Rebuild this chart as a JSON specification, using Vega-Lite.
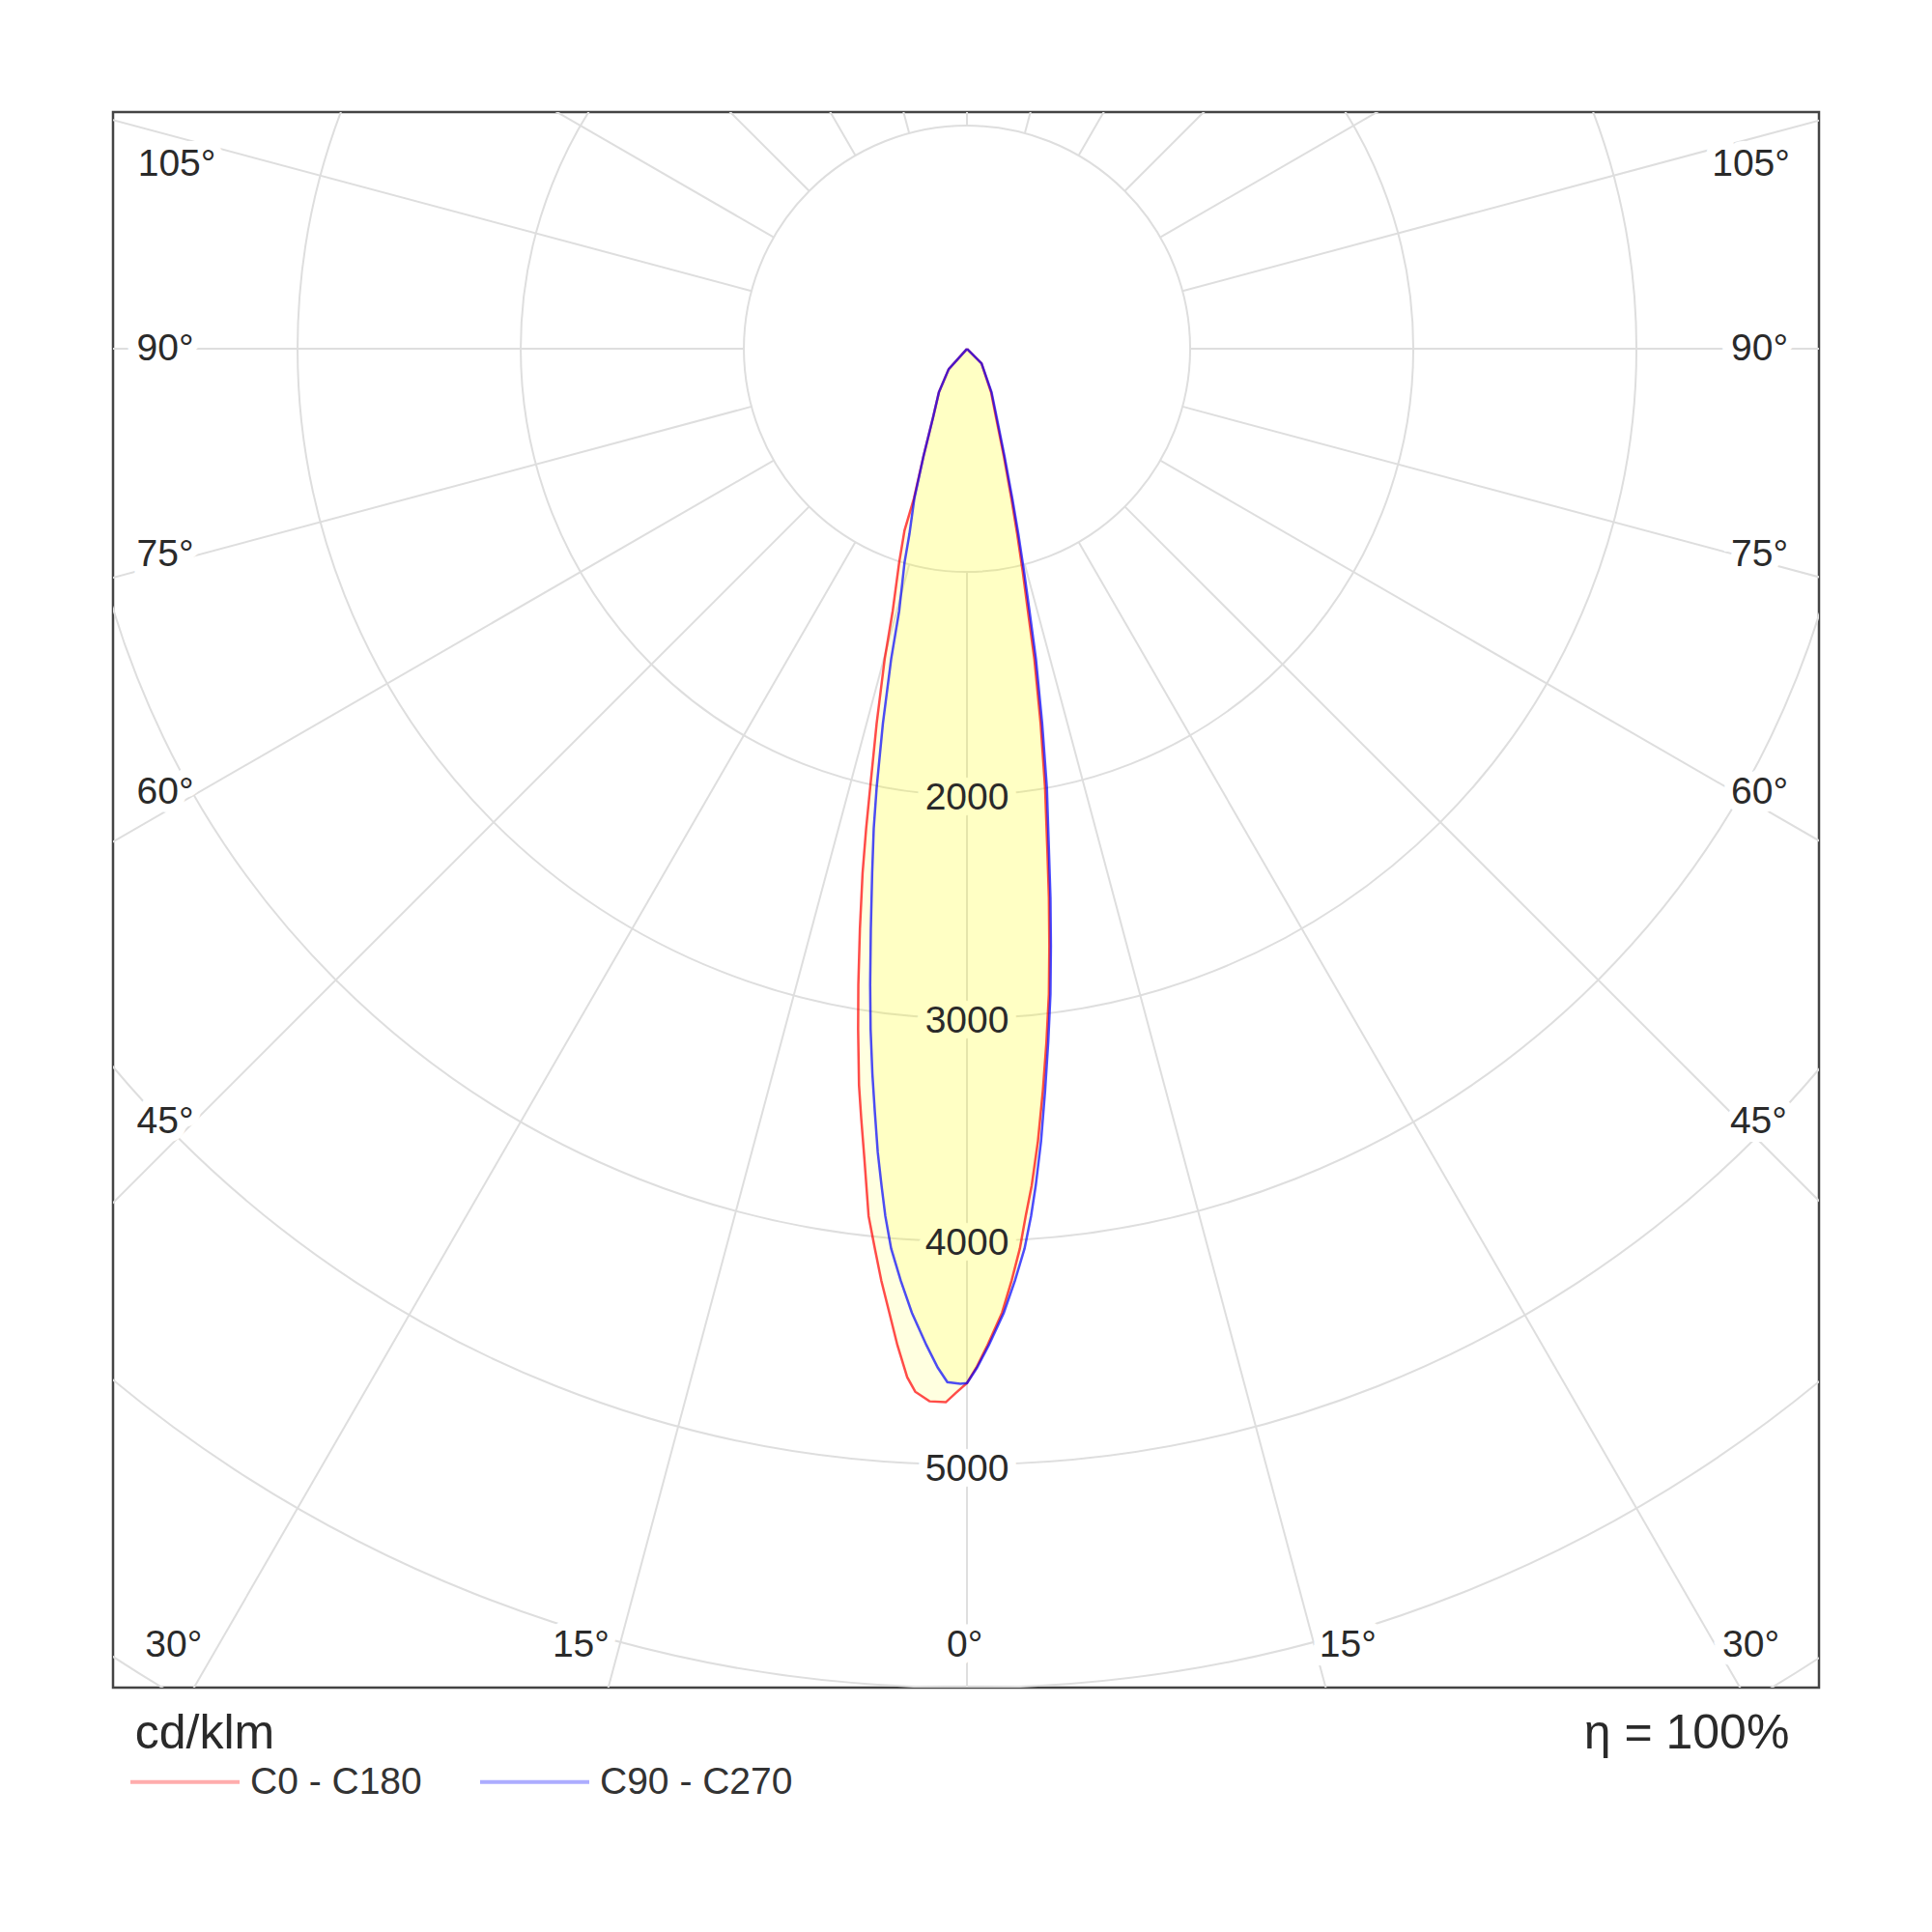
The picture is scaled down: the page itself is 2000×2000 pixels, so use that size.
{
  "$schema": "https://vega.github.io/schema/vega-lite/v6.json",
  "width": 1766,
  "height": 1631,
  "padding": {"left": 117, "top": 116, "right": 100, "bottom": 100},
  "background": "white",
  "datasets": {
    "rings": [
      {"x": 0, "y": 0, "r": 1000},
      {"x": 0, "y": 0, "r": 2000},
      {"x": 0, "y": 0, "r": 3000},
      {"x": 0, "y": 0, "r": 4000},
      {"x": 0, "y": 0, "r": 5000},
      {"x": 0, "y": 0, "r": 6000},
      {"x": 0, "y": 0, "r": 7000}
    ],
    "spokes": [
      {"x": 0, "y": 1000, "x2": 0, "y2": 9000},
      {"x": 259, "y": 966, "x2": 2329, "y2": 8693},
      {"x": -259, "y": 966, "x2": -2329, "y2": 8693},
      {"x": 500, "y": 866, "x2": 4500, "y2": 7794},
      {"x": -500, "y": 866, "x2": -4500, "y2": 7794},
      {"x": 707, "y": 707, "x2": 6364, "y2": 6364},
      {"x": -707, "y": 707, "x2": -6364, "y2": 6364},
      {"x": 866, "y": 500, "x2": 7794, "y2": 4500},
      {"x": -866, "y": 500, "x2": -7794, "y2": 4500},
      {"x": 966, "y": 259, "x2": 8693, "y2": 2329},
      {"x": -966, "y": 259, "x2": -8693, "y2": 2329},
      {"x": 1000, "y": 0, "x2": 9000, "y2": 0},
      {"x": -1000, "y": 0, "x2": -9000, "y2": 0},
      {"x": 966, "y": -259, "x2": 8693, "y2": -2329},
      {"x": -966, "y": -259, "x2": -8693, "y2": -2329},
      {"x": 866, "y": -500, "x2": 7794, "y2": -4500},
      {"x": -866, "y": -500, "x2": -7794, "y2": -4500},
      {"x": 707, "y": -707, "x2": 6364, "y2": -6364},
      {"x": -707, "y": -707, "x2": -6364, "y2": -6364},
      {"x": 500, "y": -866, "x2": 4500, "y2": -7794},
      {"x": -500, "y": -866, "x2": -4500, "y2": -7794},
      {"x": 259, "y": -966, "x2": 2329, "y2": -8693},
      {"x": -259, "y": -966, "x2": -2329, "y2": -8693},
      {"x": 0, "y": -1000, "x2": 0, "y2": -9000}
    ],
    "labels": [
      {"label": "105°", "x": -3541, "y": -828},
      {"label": "90°", "x": -3593, "y": 0},
      {"label": "75°", "x": -3593, "y": 922},
      {"label": "60°", "x": -3593, "y": 1988},
      {"label": "45°", "x": -3593, "y": 3462},
      {"label": "105°", "x": 3513, "y": -828},
      {"label": "90°", "x": 3552, "y": 0},
      {"label": "75°", "x": 3552, "y": 922},
      {"label": "60°", "x": 3552, "y": 1988},
      {"label": "45°", "x": 3547, "y": 3462},
      {"label": "30°", "x": -3555, "y": 5809},
      {"label": "15°", "x": -1730, "y": 5809},
      {"label": "0°", "x": -10, "y": 5809},
      {"label": "15°", "x": 1707, "y": 5809},
      {"label": "30°", "x": 3513, "y": 5809},
      {"label": "2000", "x": 0, "y": 2013},
      {"label": "3000", "x": 0, "y": 3013},
      {"label": "4000", "x": 0, "y": 4009},
      {"label": "5000", "x": 0, "y": 5022}
    ],
    "notes": [
      {"label": "cd/klm", "x": -3416, "y": 6206},
      {"label": "η = 100%", "x": 3225, "y": 6206}
    ],
    "curves": [
      {"series": "C0 - C180", "i": 0, "x": 0, "y": 0},
      {"series": "C0 - C180", "i": 1, "x": -82, "y": 91},
      {"series": "C0 - C180", "i": 2, "x": -126, "y": 195},
      {"series": "C0 - C180", "i": 3, "x": -152, "y": 307},
      {"series": "C0 - C180", "i": 4, "x": -195, "y": 481},
      {"series": "C0 - C180", "i": 5, "x": -238, "y": 671},
      {"series": "C0 - C180", "i": 6, "x": -280, "y": 814},
      {"series": "C0 - C180", "i": 7, "x": -304, "y": 958},
      {"series": "C0 - C180", "i": 8, "x": -333, "y": 1175},
      {"series": "C0 - C180", "i": 9, "x": -369, "y": 1391},
      {"series": "C0 - C180", "i": 10, "x": -405, "y": 1680},
      {"series": "C0 - C180", "i": 11, "x": -434, "y": 1968},
      {"series": "C0 - C180", "i": 12, "x": -452, "y": 2150},
      {"series": "C0 - C180", "i": 13, "x": -468, "y": 2350},
      {"series": "C0 - C180", "i": 14, "x": -480, "y": 2600},
      {"series": "C0 - C180", "i": 15, "x": -487, "y": 2850},
      {"series": "C0 - C180", "i": 16, "x": -488, "y": 3050},
      {"series": "C0 - C180", "i": 17, "x": -484, "y": 3300},
      {"series": "C0 - C180", "i": 18, "x": -474, "y": 3450},
      {"series": "C0 - C180", "i": 19, "x": -460, "y": 3628},
      {"series": "C0 - C180", "i": 20, "x": -441, "y": 3887},
      {"series": "C0 - C180", "i": 21, "x": -413, "y": 4032},
      {"series": "C0 - C180", "i": 22, "x": -384, "y": 4176},
      {"series": "C0 - C180", "i": 23, "x": -348, "y": 4320},
      {"series": "C0 - C180", "i": 24, "x": -312, "y": 4465},
      {"series": "C0 - C180", "i": 25, "x": -268, "y": 4609},
      {"series": "C0 - C180", "i": 26, "x": -232, "y": 4674},
      {"series": "C0 - C180", "i": 27, "x": -168, "y": 4717},
      {"series": "C0 - C180", "i": 28, "x": -95, "y": 4721},
      {"series": "C0 - C180", "i": 29, "x": -52, "y": 4681},
      {"series": "C0 - C180", "i": 30, "x": 0, "y": 4635},
      {"series": "C0 - C180", "i": 31, "x": 42, "y": 4566},
      {"series": "C0 - C180", "i": 32, "x": 92, "y": 4465},
      {"series": "C0 - C180", "i": 33, "x": 157, "y": 4320},
      {"series": "C0 - C180", "i": 34, "x": 200, "y": 4176},
      {"series": "C0 - C180", "i": 35, "x": 237, "y": 4032},
      {"series": "C0 - C180", "i": 36, "x": 263, "y": 3887},
      {"series": "C0 - C180", "i": 37, "x": 290, "y": 3750},
      {"series": "C0 - C180", "i": 38, "x": 318, "y": 3550},
      {"series": "C0 - C180", "i": 39, "x": 340, "y": 3325},
      {"series": "C0 - C180", "i": 40, "x": 356, "y": 3108},
      {"series": "C0 - C180", "i": 41, "x": 367, "y": 2892},
      {"series": "C0 - C180", "i": 42, "x": 369, "y": 2675},
      {"series": "C0 - C180", "i": 43, "x": 367, "y": 2459},
      {"series": "C0 - C180", "i": 44, "x": 360, "y": 2242},
      {"series": "C0 - C180", "i": 45, "x": 350, "y": 1968},
      {"series": "C0 - C180", "i": 46, "x": 330, "y": 1680},
      {"series": "C0 - C180", "i": 47, "x": 302, "y": 1391},
      {"series": "C0 - C180", "i": 48, "x": 273, "y": 1175},
      {"series": "C0 - C180", "i": 49, "x": 250, "y": 1000},
      {"series": "C0 - C180", "i": 50, "x": 225, "y": 830},
      {"series": "C0 - C180", "i": 51, "x": 199, "y": 671},
      {"series": "C0 - C180", "i": 52, "x": 165, "y": 481},
      {"series": "C0 - C180", "i": 53, "x": 130, "y": 307},
      {"series": "C0 - C180", "i": 54, "x": 108, "y": 195},
      {"series": "C0 - C180", "i": 55, "x": 65, "y": 65},
      {"series": "C0 - C180", "i": 56, "x": 0, "y": 0},
      {"series": "C90 - C270", "i": 0, "x": 0, "y": 0},
      {"series": "C90 - C270", "i": 1, "x": -82, "y": 91},
      {"series": "C90 - C270", "i": 2, "x": -126, "y": 195},
      {"series": "C90 - C270", "i": 3, "x": -152, "y": 307},
      {"series": "C90 - C270", "i": 4, "x": -195, "y": 481},
      {"series": "C90 - C270", "i": 5, "x": -236, "y": 671},
      {"series": "C90 - C270", "i": 6, "x": -258, "y": 830},
      {"series": "C90 - C270", "i": 7, "x": -280, "y": 958},
      {"series": "C90 - C270", "i": 8, "x": -304, "y": 1175},
      {"series": "C90 - C270", "i": 9, "x": -340, "y": 1391},
      {"series": "C90 - C270", "i": 10, "x": -377, "y": 1680},
      {"series": "C90 - C270", "i": 11, "x": -405, "y": 1968},
      {"series": "C90 - C270", "i": 12, "x": -418, "y": 2150},
      {"series": "C90 - C270", "i": 13, "x": -425, "y": 2350},
      {"series": "C90 - C270", "i": 14, "x": -431, "y": 2600},
      {"series": "C90 - C270", "i": 15, "x": -434, "y": 2850},
      {"series": "C90 - C270", "i": 16, "x": -432, "y": 3050},
      {"series": "C90 - C270", "i": 17, "x": -424, "y": 3250},
      {"series": "C90 - C270", "i": 18, "x": -413, "y": 3420},
      {"series": "C90 - C270", "i": 19, "x": -400, "y": 3600},
      {"series": "C90 - C270", "i": 20, "x": -383, "y": 3750},
      {"series": "C90 - C270", "i": 21, "x": -366, "y": 3887},
      {"series": "C90 - C270", "i": 22, "x": -340, "y": 4032},
      {"series": "C90 - C270", "i": 23, "x": -297, "y": 4176},
      {"series": "C90 - C270", "i": 24, "x": -247, "y": 4320},
      {"series": "C90 - C270", "i": 25, "x": -182, "y": 4465},
      {"series": "C90 - C270", "i": 26, "x": -131, "y": 4566},
      {"series": "C90 - C270", "i": 27, "x": -88, "y": 4631},
      {"series": "C90 - C270", "i": 28, "x": -30, "y": 4638},
      {"series": "C90 - C270", "i": 29, "x": 0, "y": 4635},
      {"series": "C90 - C270", "i": 30, "x": 45, "y": 4566},
      {"series": "C90 - C270", "i": 31, "x": 98, "y": 4465},
      {"series": "C90 - C270", "i": 32, "x": 165, "y": 4320},
      {"series": "C90 - C270", "i": 33, "x": 215, "y": 4176},
      {"series": "C90 - C270", "i": 34, "x": 258, "y": 4032},
      {"series": "C90 - C270", "i": 35, "x": 287, "y": 3887},
      {"series": "C90 - C270", "i": 36, "x": 308, "y": 3750},
      {"series": "C90 - C270", "i": 37, "x": 332, "y": 3550},
      {"series": "C90 - C270", "i": 38, "x": 350, "y": 3325},
      {"series": "C90 - C270", "i": 39, "x": 364, "y": 3108},
      {"series": "C90 - C270", "i": 40, "x": 374, "y": 2892},
      {"series": "C90 - C270", "i": 41, "x": 376, "y": 2675},
      {"series": "C90 - C270", "i": 42, "x": 374, "y": 2459},
      {"series": "C90 - C270", "i": 43, "x": 367, "y": 2242},
      {"series": "C90 - C270", "i": 44, "x": 358, "y": 1968},
      {"series": "C90 - C270", "i": 45, "x": 337, "y": 1680},
      {"series": "C90 - C270", "i": 46, "x": 309, "y": 1391},
      {"series": "C90 - C270", "i": 47, "x": 280, "y": 1175},
      {"series": "C90 - C270", "i": 48, "x": 256, "y": 1000},
      {"series": "C90 - C270", "i": 49, "x": 230, "y": 830},
      {"series": "C90 - C270", "i": 50, "x": 203, "y": 671},
      {"series": "C90 - C270", "i": 51, "x": 168, "y": 481},
      {"series": "C90 - C270", "i": 52, "x": 133, "y": 307},
      {"series": "C90 - C270", "i": 53, "x": 110, "y": 195},
      {"series": "C90 - C270", "i": 54, "x": 65, "y": 65},
      {"series": "C90 - C270", "i": 55, "x": 0, "y": 0}
    ]
  },
  "encoding": {
    "x": {
      "field": "x",
      "type": "quantitative",
      "axis": null,
      "scale": {"domain": [-3827, 3818], "nice": false, "zero": false}
    },
    "y": {
      "field": "y",
      "type": "quantitative",
      "axis": null,
      "scale": {"domain": [-1061, 6000], "nice": false, "zero": false, "reverse": true}
    }
  },
  "layer": [
    {
      "data": {"name": "rings"},
      "mark": {"type": "point", "shape": "circle", "filled": false, "stroke": "#dedede", "strokeWidth": 2, "opacity": 1, "clip": true},
      "encoding": {
        "size": {
          "field": "r",
          "type": "quantitative",
          "legend": null,
          "scale": {"type": "pow", "exponent": 2, "domain": [0, 7000], "range": [0, 10458756]}
        }
      }
    },
    {
      "data": {"name": "spokes"},
      "mark": {"type": "rule", "stroke": "#dedede", "strokeWidth": 2, "clip": true},
      "encoding": {
        "x2": {"field": "x2"},
        "y2": {"field": "y2"}
      }
    },
    {
      "data": {"name": "labels"},
      "mark": {"type": "text", "font": "Liberation Sans", "fontSize": 39, "baseline": "middle", "align": "center", "fill": "white", "stroke": "white", "strokeWidth": 18},
      "encoding": {"text": {"field": "label"}}
    },
    {
      "data": {"name": "curves"},
      "mark": {"type": "line", "fill": "#ffff00", "fillOpacity": 0.12, "strokeOpacity": 0},
      "encoding": {
        "detail": {"field": "series"},
        "order": {"field": "i", "type": "quantitative"}
      }
    },
    {
      "data": {"name": "curves"},
      "mark": {"type": "line", "strokeWidth": 2.5, "strokeOpacity": 0.7},
      "encoding": {
        "order": {"field": "i", "type": "quantitative"},
        "color": {
          "field": "series",
          "type": "nominal",
          "scale": {"domain": ["C0 - C180", "C90 - C270"], "range": ["#ff0000", "#0000ff"]},
          "legend": {
            "orient": "none",
            "legendX": 16,
            "legendY": 1670,
            "direction": "horizontal",
            "title": null,
            "padding": 0,
            "symbolType": "stroke",
            "symbolSize": 12769,
            "symbolStrokeWidth": 4,
            "symbolOpacity": 0.32,
            "labelFont": "Liberation Sans",
            "labelFontSize": 39,
            "labelColor": "#333333",
            "labelOffset": 9,
            "labelLimit": 0,
            "columnPadding": 52
          }
        }
      }
    },
    {
      "data": {"name": "labels"},
      "mark": {"type": "text", "font": "Liberation Sans", "fontSize": 39, "baseline": "middle", "align": "center", "color": "#2a2a2a"},
      "encoding": {"text": {"field": "label"}}
    },
    {
      "data": {"name": "notes"},
      "mark": {"type": "text", "font": "Liberation Sans", "fontSize": 50, "baseline": "middle", "align": "center", "color": "#2a2a2a"},
      "encoding": {"text": {"field": "label"}}
    }
  ],
  "config": {
    "view": {"stroke": "#444444", "strokeWidth": 2.5}
  }
}
